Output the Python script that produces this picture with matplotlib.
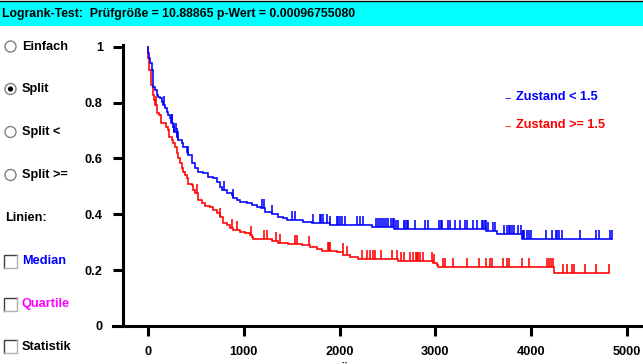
import numpy as np
import matplotlib
matplotlib.use("Agg")
import matplotlib.pyplot as plt
from matplotlib.font_manager import FontProperties
from matplotlib.patches import Rectangle, Circle

# ---------------- data ----------------
title_text = "Logrank-Test:  Prüfgröße = 10.88865 p-Wert = 0.00096755080"
group_labels = ["Zustand < 1.5", "Zustand >= 1.5"]
group_colors = ["#0000ff", "#ff0000"]

blue_t = [0, 3, 10, 21, 39, 49, 55, 73, 91, 104, 125, 143, 157, 177, 195, 209, 230, 245,
          261, 271, 300, 313, 352, 365, 404, 418, 456, 491, 522, 574, 626, 679, 720, 752,
          769, 822, 874, 887, 926, 960, 1030, 1083, 1135, 1177, 1222, 1291, 1360, 1413,
          1448, 1621, 1709, 1900, 2339, 2571, 3529, 3647, 3910, 4849]
blue_s = [1.0, 0.976, 0.960, 0.942, 0.917, 0.881, 0.857, 0.845, 0.827, 0.821, 0.815, 0.803,
          0.791, 0.781, 0.767, 0.755, 0.745, 0.727, 0.713, 0.695, 0.678, 0.666, 0.655, 0.642,
          0.624, 0.612, 0.584, 0.566, 0.553, 0.548, 0.535, 0.530, 0.516, 0.498, 0.487, 0.476,
          0.469, 0.458, 0.451, 0.445, 0.439, 0.433, 0.427, 0.422, 0.409, 0.400, 0.391, 0.386,
          0.380, 0.373, 0.368, 0.362, 0.356, 0.346, 0.340, 0.328, 0.310, 0.310]

red_t = [0, 3, 14, 28, 49, 63, 76, 97, 118, 133, 188, 212, 222, 247, 264, 282, 300, 316,
         334, 352, 369, 386, 404, 421, 456, 473, 491, 525, 561, 595, 647, 682, 717, 752,
         786, 822, 856, 891, 960, 1013, 1065, 1083, 1099, 1291, 1360, 1465, 1605, 1691,
         1761, 1813, 1970, 2039, 2109, 2195, 2613, 2979, 3014, 3031, 4242, 4816]
red_s = [1.0, 0.960, 0.917, 0.863, 0.827, 0.809, 0.791, 0.763, 0.755, 0.727, 0.714, 0.702,
         0.678, 0.666, 0.655, 0.642, 0.619, 0.600, 0.584, 0.566, 0.552, 0.541, 0.530, 0.508,
         0.505, 0.487, 0.475, 0.451, 0.439, 0.430, 0.425, 0.415, 0.403, 0.391, 0.370, 0.362,
         0.350, 0.344, 0.338, 0.332, 0.326, 0.318, 0.310, 0.305, 0.298, 0.294, 0.289, 0.284,
         0.275, 0.269, 0.266, 0.254, 0.248, 0.240, 0.233, 0.224, 0.217, 0.212, 0.189, 0.189]

blue_cens = [170, 247, 254, 271, 295, 306, 316, 421, 797, 891, 1187, 1214, 1298, 1506, 1538,
             1726, 1796, 1811, 1824, 1866, 1900, 1976, 1989, 2004, 2022, 2057, 2185, 2213,
             2248, 2380, 2401, 2422, 2443, 2464, 2485, 2509, 2534, 2555, 2568, 2589, 2613,
             2676, 2688, 2701, 2711, 2788, 2892, 2926, 3038, 3054, 3066, 3129, 3153, 3205,
             3257, 3309, 3333, 3396, 3438, 3484, 3501, 3515, 3525, 3546, 3599, 3623, 3720,
             3751, 3764, 3780, 3797, 3821, 3866, 3894, 3912, 3920, 3925, 3954, 3981, 3995,
             4152, 4221, 4259, 4273, 4288, 4325, 4513, 4680, 4712, 4826, 4849]
red_cens = [84, 508, 752, 874, 932, 1072, 1214, 1239, 1336, 1378, 1535, 1552, 1684, 1882,
            1893, 1900, 2031, 2081, 2231, 2283, 2318, 2346, 2370, 2429, 2550, 2596, 2638,
            2676, 2735, 2770, 2795, 2808, 2822, 2840, 2874, 2968, 2989, 3083, 3101, 3187,
            3327, 3459, 3529, 3570, 3588, 3703, 3751, 3772, 3901, 3981, 4162, 4190, 4204,
            4231, 4336, 4378, 4430, 4447, 4565, 4674, 4816]

x_ticks = [0, 1000, 2000, 3000, 4000, 5000]
y_ticks = [0, 0.2, 0.4, 0.6, 0.8, 1]
y_ticklabels = ["0", "0.2", "0.4", "0.6", "0.8", "1"]
x_label = "Überlebenszeit"

radio_labels = ["Einfach", "Split", "Split <", "Split >="]
radio_selected = 1
check_labels = ["Median", "Quartile", "Statistik"]
check_colors = ["#0000ff", "#ff00ff", "#000000"]

# ---------------- fonts ----------------
FAM = ["Liberation Sans", "DejaVu Sans"]
FS = 9.2
FS_TITLE = 8.8

def fp(size=FS, bold=True):
    return FontProperties(family=FAM, weight="bold" if bold else "normal", size=size)

W, H = 643, 364
fig = plt.figure(figsize=(W / 100, H / 100), dpi=100)
fig.patch.set_facecolor("white")

# background / GUI overlay in pixel coordinates
bg = fig.add_axes([0, 0, 1, 1])
bg.set_xlim(0, W)
bg.set_ylim(H, 0)
bg.axis("off")
bg.add_patch(Rectangle((0, 0.5), W, 25.5, facecolor="#00ffff", edgecolor="none"))
bg.plot([0, W], [0.5, 0.5], color="black", lw=1)
bg.text(2.5, 13.5, title_text, fontproperties=fp(FS_TITLE), va="center", ha="left",
        color="black")

radio_y = [46.5, 89, 132, 175]
for i, (lab, yy) in enumerate(zip(radio_labels, radio_y)):
    bg.add_patch(Circle((10.5, yy), 5.5, facecolor="white", edgecolor="#808080", lw=1.0))
    if i == radio_selected:
        bg.add_patch(Circle((10.5, yy), 2.6, facecolor="black", edgecolor="none"))
    bg.text(22, yy, lab, fontproperties=fp(), va="center", ha="left", color="black")

bg.text(5, 218, "Linien:", fontproperties=fp(), va="center", ha="left", color="black")

check_y = [261.5, 304, 346.5]
for lab, col, yy in zip(check_labels, check_colors, check_y):
    x0, y0, s = 3.5, yy - 6.5, 13
    bg.add_patch(Rectangle((x0, y0), s, s, facecolor="white", edgecolor="none"))
    bg.plot([x0, x0, x0 + s], [y0 + s, y0, y0], color="#404040", lw=1)
    bg.plot([x0, x0 + s, x0 + s], [y0 + s, y0 + s, y0], color="#b0b0b0", lw=1)
    bg.text(22, yy, lab, fontproperties=fp(), va="center", ha="left", color=col)

# legend texts
for lab, col, yy in zip(group_labels, group_colors, [97.5, 125.5]):
    bg.text(504.5, yy + 1, "--", fontproperties=fp(FS - 1, bold=False), va="center",
            ha="left", color=col)
    bg.text(515.5, yy, lab, fontproperties=fp(), va="center", ha="left", color=col)

# ---------------- main plot ----------------
ax = fig.add_axes([113 / W, 38 / H, (W - 113) / W, (326 - 45) / H])
ax.patch.set_alpha(0)
ax.set_xlim(-365, 5168)
ax.set_ylim(0, 1.006)

def step_val(ts, ss, x):
    idx = np.searchsorted(np.asarray(ts), np.asarray(x), side="right") - 1
    return np.asarray(ss)[idx]

LW = 1.15
for ts, ss, cens, col in [(red_t, red_s, red_cens, group_colors[1]),
                          (blue_t, blue_s, blue_cens, group_colors[0])]:
    ax.step(ts, ss, where="post", color=col, lw=LW, solid_joinstyle="miter")
    base = step_val(ts, ss, cens)
    ax.vlines(cens, base, base + 0.032, color=col, lw=LW)

for sp in ["top", "right"]:
    ax.spines[sp].set_visible(False)
ax.spines["left"].set_position(("data", -261))
ax.spines["left"].set_linewidth(2.2)
ax.spines["bottom"].set_linewidth(2.2)

ax.set_xticks(x_ticks)
ax.set_xticklabels([str(v) for v in x_ticks])
ax.set_yticks(y_ticks)
ax.set_yticklabels(y_ticklabels)
ax.tick_params(axis="both", direction="out", length=7.5, width=2.2, color="black")
ax.tick_params(axis="x", pad=7)
ax.tick_params(axis="y", pad=7)
for lbl in ax.get_xticklabels() + ax.get_yticklabels():
    lbl.set_fontproperties(fp())

bg.text(385, 373, x_label, fontproperties=fp(), va="baseline", ha="center", color="black")

fig.savefig("out.png", dpi=100)
